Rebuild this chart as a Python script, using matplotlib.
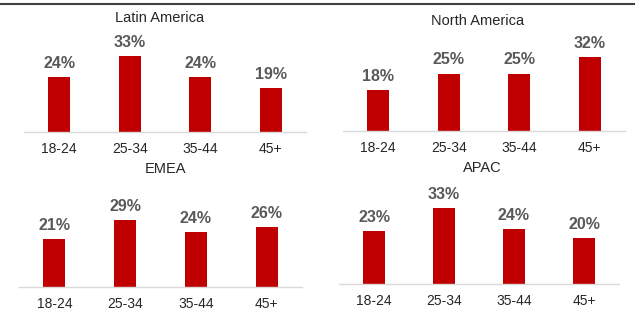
import matplotlib.pyplot as plt

plt.rcParams['font.family'] = ['Liberation Sans', 'DejaVu Sans']

age_groups = ['18-24', '25-34', '35-44', '45+']
regions = ['Latin America', 'North America', 'EMEA', 'APAC']
latin_america = [24, 33, 24, 19]
north_america = [18, 25, 25, 32]
emea = [21, 29, 24, 26]
apac = [23, 33, 24, 20]

W, H = 638, 322
BAR_RED = '#C00000'

fig = plt.figure(figsize=(W / 100, H / 100), dpi=100)

# left edge, baseline, width (px) and title centre (px) for each panel
panels = [
    (latin_america, regions[0], 24, 132, 282, (160, 18)),
    (north_america, regions[1], 343, 131, 282, (478, 21)),
    (emea, regions[2], 19, 287, 283, (165, 169)),
    (apac, regions[3], 339, 284, 280, (482, 168)),
]

px_per_pct = 2.3
ax_h = 100

for values, name, left, base, width, (tx, ty) in panels:
    ax = fig.add_axes([left / W, (H - base) / H, width / W, ax_h / H])
    xs = range(len(age_groups))
    ax.bar(xs, values, width=0.31, color=BAR_RED)
    ax.set_xlim(-0.5, 3.5)
    ax.set_ylim(0, ax_h / px_per_pct)
    for s in ['top', 'right', 'left']:
        ax.spines[s].set_visible(False)
    ax.spines['bottom'].set_color('#D9D9D9')
    ax.spines['bottom'].set_linewidth(1.0)
    ax.set_yticks([])
    ax.set_xticks(list(xs))
    ax.set_xticklabels(age_groups, fontsize=10, color='#262626')
    ax.tick_params(axis='x', length=0, pad=7.5)
    for x, v in zip(xs, values):
        ax.annotate(f'{v}%', (x, v), xytext=(0, 6.5), textcoords='offset points',
                    ha='center', va='baseline', fontsize=11.5, fontweight='bold',
                    color='#595959')
    fig.text(tx / W, 1 - ty / H, name, ha='center', va='center',
             fontsize=10.5, color='#262626')

# rule across the top edge
fig.add_artist(plt.Line2D([0, 634 / W], [1 - 4 / H, 1 - 4 / H],
                          color='#404040', linewidth=1.5))

fig.savefig('out.png', dpi=100)
